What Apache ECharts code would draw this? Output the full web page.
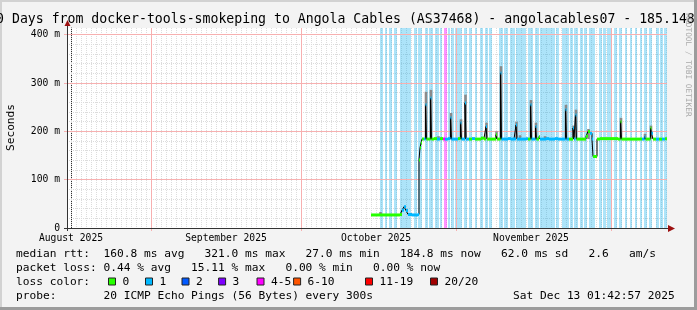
<!DOCTYPE html>
<html><head><meta charset="utf-8">
<script src="https://cdn.jsdelivr.net/npm/echarts@6/dist/echarts.min.js"></script>
<style>html,body{margin:0;padding:0;background:#f3f3f3}#c{width:697px;height:310px}</style>
</head><body><div id="c"></div>
<script>
// ---- data (x = days since 1 Aug 2025, y = milliseconds) ----
const titleText = '120 Days from docker-tools-smokeping to Angola Cables (AS37468) - angolacables07 - 185.148';
const monthDays = [0, 31, 61, 92];
const monthLabels = ['August 2025', 'September 2025', 'October 2025', 'November 2025'];
const majorDays = [16, 46, 77, 108];
const yTickValues = [0, 100, 200, 300, 400];
const yTickLabels = ['0', '100 m', '200 m', '300 m', '400 m'];

const lossStart = [61.8,62.8,63.6,64.6,65.8,68.6,69.4,70.8,71.6,72.8,73.8,74.6,75.4,76.0,76.8,78.6,79.6,80.8,81.8,82.8,83.6,85.6,86.6,87.8,89.0,91.4,92.8,93.8,97.0,98.2,99.8,100.6,101.8,102.6,103.6,105.6,106.4,107.2,108.6,109.6,110.8,111.8,112.8,113.8,114.6,115.6,117.0,117.8,118.6];
const lossEnd   = [62.4,63.2,64.2,65.2,68.0,69.2,70.2,71.4,72.4,73.6,74.2,75.2,75.8,76.6,78.2,79.2,80.2,81.2,82.4,83.4,84.2,86.4,87.4,88.8,91.0,92.4,93.6,96.8,97.6,99.6,100.4,101.4,102.4,103.2,104.8,106.2,107.0,108.2,109.2,110.2,111.2,112.2,113.2,114.2,115.2,116.2,117.6,118.4,119.2];
const lossLevel = [1,1,1,1,1,1,1,1,1,1,1,4,1,1,1,1,1,1,1,1,1,1,1,1,1,1,1,1,1,1,1,1,1,1,1,1,1,1,1,1,1,1,1,1,1,1,1,1,1];

const medianDay = [
  60.0,61.0,62.0,63.0,64.0,65.0,65.8,66.2,66.6,67.0,
  67.4,68.2,69.0,69.4,69.6,69.8,70.0,70.2,70.6,70.9,
  71.1,71.5,71.9,72.1,72.6,73.2,73.8,74.4,74.8,75.4,
  75.9,76.1,76.8,77.4,77.9,78.1,78.8,79.0,79.6,80.2,
  80.8,81.4,82.0,82.6,83.0,83.2,83.8,84.4,85.0,85.2,
  85.9,86.1,86.8,87.4,88.0,88.6,89.0,89.2,89.8,90.4,
  91.0,91.4,91.9,92.1,92.9,93.1,93.6,93.8,94.4,95.0,
  95.6,96.2,96.8,97.4,98.0,98.9,99.1,99.6,100.4,100.6,
  100.9,101.1,101.8,102.4,103.0,103.4,103.8,104.2,104.4,105.2,
  105.8,106.4,107.0,107.6,108.2,108.8,109.4,109.9,110.1,110.8,
  111.4,112.0,112.6,113.2,113.8,114.2,114.7,114.9,115.4,115.9,
  116.1,116.4,117.0,117.6,118.2,118.8];
const medianMs = [
  27,27,27,27,27,27,28,37,44,36,
  28,27,27,28,141,166,176,184,184,255,
  184,184,269,184,185,184,185,184,184,185,
  228,184,184,185,218,184,259,184,184,185,
  184,184,186,184,210,184,184,184,193,184,
  321,184,184,185,184,184,213,184,184,184,
  185,184,255,184,210,184,189,184,184,185,
  184,184,185,184,184,245,184,184,207,184,
  234,184,184,184,190,200,196,184,148,184,
  185,185,185,185,185,185,184,220,184,184,
  184,184,184,184,184,184,189,184,184,207,
  196,184,184,184,184,184.8];
const medianLoss = [
  0,0,0,0,0,0,0,1,1,1,
  1,1,1,1,0,0,0,0,1,1,
  0,0,1,0,0,1,0,4,1,1,
  1,1,1,0,1,1,1,1,0,1,
  0,0,0,0,1,0,0,0,0,0,
  1,1,1,1,1,1,1,1,1,1,
  1,0,1,1,1,0,0,1,1,1,
  1,1,1,1,1,1,1,0,1,1,
  1,0,0,0,0,0,1,1,0,0,
  0,0,0,0,0,0,0,0,0,0,
  0,0,0,0,0,1,1,0,0,0,
  1,0,1,0,1,0];

const smokeDay  = [61.9,71.0,72.0,73.5,76.0,78.0,78.9,83.1,85.1,86.0,89.1,89.8,92.0,93.0,94.8,99.0,100.5,101.0,103.5,110.0,114.8,116.0];
const smokeLow  = [27,184,184,184,184,184,184,184,184,184,184,184,184,184,184,184,184,184,184,184,184,184];
const smokeHigh = [33,282,286,190,238,225,276,218,200,335,220,192,265,218,190,255,212,245,205,228,195,212];

const legendLabels = ['0', '1', '2', '3', '4-5', '6-10', '11-19', '20/20'];
const statLines = [
  'median rtt:  160.8 ms avg   321.0 ms max   27.0 ms min   184.8 ms now   62.0 ms sd   2.6   am/s',
  'packet loss: 0.44 % avg   15.11 % max   0.00 % min   0.00 % now',
  'loss color:',
  'probe:       20 ICMP Echo Pings (56 Bytes) every 300s'
];
const dateText = 'Sat Dec 13 01:42:57 2025';
const yUnitText = 'Seconds';
const watermarkText = 'RRDTOOL / TOBI OETIKER';

// ---- styles / layout ----
const lossColors = ['#26ff00', '#00b8ff', '#0059ff', '#7e00ff', '#ff00ff', '#ff5500', '#ff0000', '#a10000'];
const lossBgColors = ['rgba(38,255,0,0.33)', 'rgba(0,170,235,0.32)', 'rgba(0,89,255,0.33)', 'rgba(126,0,255,0.33)', 'rgba(255,0,255,0.42)', 'rgba(255,85,0,0.33)', 'rgba(255,0,0,0.33)', 'rgba(161,0,0,0.33)'];
const MONO = '"DejaVu Sans Mono", monospace';
const XMIN = -0.8, XMAX = 119.2, YMAX = 414;
const MINOR = '#dcdcdc';
const MAJOR = '#f7b0b0';

const chart = echarts.init(document.getElementById('c'), null, {renderer: 'canvas'});

// grid line positions (axis ticks, not data)
const minorDays = [];
for (let d = 0; d <= 119; d++) if (majorDays.indexOf(d) < 0) minorDays.push([d]);
const minorMs = [];
for (let v = 20; v <= 400; v += 20) if (v % 100 !== 0) minorMs.push([v]);
const majorXData = majorDays.map(d => [d]);
const majorYData = yTickValues.filter(v => v > 0).map(v => [v]);

const lossData = lossStart.map((s, i) => [s, lossEnd[i], lossLevel[i]]);
const nMed = medianDay.length;
const medianSeg = medianDay.map((d, i) => [d, i + 1 < nMed ? medianDay[i + 1] : d + 0.4, medianMs[i], medianLoss[i]]);
const smokeData = smokeDay.map((d, i) => [d, smokeLow[i], smokeHigh[i]]);

const rowY = [254, 268.2, 282.3, 296.4];
const graphics = [];
graphics.push({type: 'rect', shape: {x: 0, y: 0, width: 697, height: 2}, style: {fill: '#d2d2d2'}, silent: true});
graphics.push({type: 'rect', shape: {x: 0, y: 0, width: 2, height: 310}, style: {fill: '#d2d2d2'}, silent: true});
graphics.push({type: 'rect', shape: {x: 0, y: 307, width: 697, height: 3}, style: {fill: '#9c9c9c'}, silent: true});
graphics.push({type: 'rect', shape: {x: 694, y: 0, width: 3, height: 310}, style: {fill: '#9c9c9c'}, silent: true});
graphics.push({type: 'text', x: -19.8, y: 19.3, style: {text: titleText, font: '13.2px ' + MONO, fill: '#000', align: 'left', verticalAlign: 'middle'}, silent: true});
graphics.push({type: 'text', x: 11, y: 127.5, rotation: Math.PI / 2, style: {text: yUnitText, font: '11.2px ' + MONO, fill: '#000', align: 'center', verticalAlign: 'middle'}, silent: true});
graphics.push({type: 'text', x: 688, y: 65, rotation: -Math.PI / 2, style: {text: watermarkText, font: '7.8px ' + MONO, fill: '#a8a8a8', align: 'center', verticalAlign: 'middle'}, silent: true});
statLines.forEach((t, i) => {
  graphics.push({type: 'text', x: 16, y: rowY[i], style: {text: t, font: '11.2px ' + MONO, fill: '#000', align: 'left', verticalAlign: 'middle'}, silent: true});
});
graphics.push({type: 'text', x: 513, y: rowY[3], style: {text: dateText, font: '11.2px ' + MONO, fill: '#000', align: 'left', verticalAlign: 'middle'}, silent: true});
const legendTextX = [122.5, 159.5, 196, 232.6, 271, 307.6, 379.5, 444.5];
legendLabels.forEach((t, i) => {
  graphics.push({type: 'rect', shape: {x: legendTextX[i] - 14, y: 278, width: 7, height: 7}, style: {fill: lossColors[i], stroke: '#222', lineWidth: 1}, silent: true});
  graphics.push({type: 'text', x: legendTextX[i], y: rowY[2], style: {text: t, font: '11.2px ' + MONO, fill: '#000', align: 'left', verticalAlign: 'middle'}, silent: true});
});
graphics.push({type: 'line', shape: {x1: 67.5, y1: 22, x2: 67.5, y2: 231}, style: {stroke: '#333', lineWidth: 1}, silent: true, z: 50});
graphics.push({type: 'line', shape: {x1: 64, y1: 228.5, x2: 669, y2: 228.5}, style: {stroke: '#333', lineWidth: 1}, silent: true, z: 50});
graphics.push({type: 'polygon', shape: {points: [[64.5, 26], [70.5, 26], [67.5, 20]]}, style: {fill: '#9c1010'}, silent: true, z: 51});
graphics.push({type: 'polygon', shape: {points: [[668, 225], [668, 232], [675, 228.5]]}, style: {fill: '#9c1010'}, silent: true, z: 51});

const crisp = v => Math.round(v - 0.5) + 0.5;
function vLines(color, below, dash) {
  return (params, api) => {
    const top = api.coord([api.value(0), YMAX]);
    const bot = api.coord([api.value(0), 0]);
    const x = crisp(top[0]);
    return {type: 'line', shape: {x1: x, y1: top[1], x2: x, y2: bot[1] + below},
            style: {stroke: color, lineWidth: 1, lineDash: dash}};
  };
}
function hLines(color, left, dash) {
  return (params, api) => {
    const l = api.coord([XMIN, api.value(0)]);
    const r = api.coord([XMAX, api.value(0)]);
    const y = crisp(l[1]);
    return {type: 'line', shape: {x1: l[0] - left, y1: y, x2: r[0], y2: y},
            style: {stroke: color, lineWidth: 1, lineDash: dash}};
  };
}

const option = {
  animation: false,
  backgroundColor: '#f3f3f3',
  grid: [{left: 67, top: 28, width: 600, height: 200, show: true, backgroundColor: '#ffffff', borderWidth: 0}],
  xAxis: [{type: 'value', min: XMIN, max: XMAX,
     axisLine: {show: true, lineStyle: {color: '#333'}}, splitLine: {show: false}, axisTick: {show: false},
     axisLabel: {customValues: monthDays, formatter: v => monthLabels[monthDays.indexOf(v)],
                 fontFamily: MONO, fontSize: 9.7, lineHeight: 10, color: '#000', margin: 5}}],
  yAxis: [{type: 'value', min: 0, max: YMAX,
     axisLine: {show: true, lineStyle: {color: '#333'}}, axisTick: {show: false}, splitLine: {show: false},
     axisLabel: {customValues: yTickValues, formatter: v => yTickLabels[yTickValues.indexOf(v)],
                 fontFamily: MONO, fontSize: 9.7, color: '#000', margin: 7}}],
  series: [
    {type: 'custom', name: 'minor x grid', data: minorDays, z: 1, silent: true, encode: {x: 0}, clip: false, renderItem: vLines(MINOR, 0, [1, 1])},
    {type: 'custom', name: 'minor y grid', data: minorMs, z: 1, silent: true, encode: {y: 0}, clip: false, renderItem: hLines(MINOR, 0, [1, 1])},
    {
      type: 'custom', name: 'loss', data: lossData, z: 2, silent: true,
      encode: {x: [0, 1], y: 2},
      renderItem: (params, api) => {
        const a = api.coord([api.value(0), YMAX]);
        const b = api.coord([api.value(1), 0]);
        return {type: 'rect', shape: {x: a[0], y: a[1], width: b[0] - a[0], height: b[1] - a[1]},
                style: {fill: lossBgColors[api.value(2)]}};
      }
    },
    {type: 'custom', name: 'major x grid', data: majorXData, z: 3, silent: true, encode: {x: 0}, clip: false, renderItem: vLines(MAJOR, 3, null)},
    {type: 'custom', name: 'major y grid', data: majorYData, z: 3, silent: true, encode: {y: 0}, clip: false, renderItem: hLines(MAJOR, 3, null)},
    {
      type: 'custom', name: 'smoke', data: smokeData, z: 4, silent: true,
      encode: {x: 0, y: [1, 2]},
      renderItem: (params, api) => {
        const a = api.coord([api.value(0), api.value(2)]);
        const b = api.coord([api.value(0), api.value(1)]);
        return {type: 'rect', shape: {x: a[0] - 1.3, y: a[1], width: 2.6, height: b[1] - a[1]},
                style: {fill: '#8a8a8a'}};
      }
    },
    {
      type: 'line', name: 'median', z: 5, silent: true,
      data: medianDay.map((d, i) => [d, medianMs[i]]),
      step: 'end', symbol: 'none', lineStyle: {color: '#000', width: 1}
    },
    {
      type: 'custom', name: 'median loss', data: medianSeg, z: 6, silent: true,
      encode: {x: [0, 1], y: 2},
      renderItem: (params, api) => {
        const a = api.coord([api.value(0), api.value(2)]);
        const b = api.coord([api.value(1), api.value(2)]);
        return {type: 'rect', shape: {x: a[0], y: a[1] - 1.5, width: Math.max(1, b[0] - a[0]), height: 3},
                style: {fill: lossColors[api.value(3)]}};
      }
    }
  ],
  graphic: graphics
};
chart.setOption(option);
</script>
</body></html>
